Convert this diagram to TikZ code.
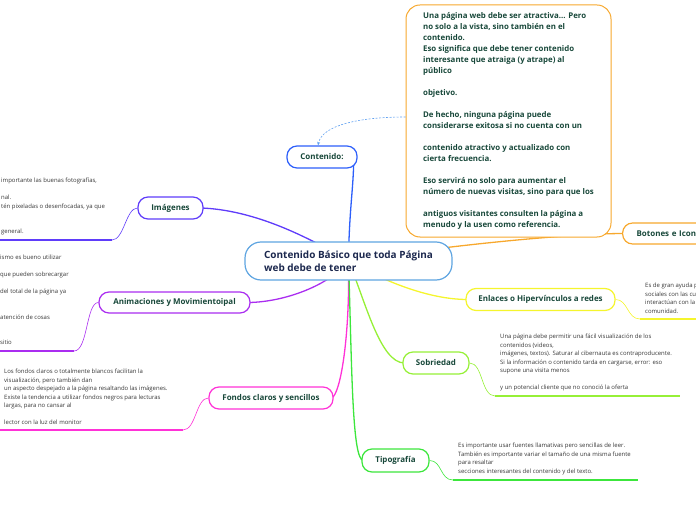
\documentclass[tikz,border=0pt]{standalone}
\usepackage{fontspec}
\setmainfont{Open Sans}
\usetikzlibrary{arrows.meta,backgrounds}

\definecolor{labelgreen}{RGB}{24,72,58}
\definecolor{hubnavy}{RGB}{28,40,78}
\definecolor{notegrey}{RGB}{55,55,55}
\definecolor{hubblue}{RGB}{95,165,225}
\definecolor{contblue}{RGB}{45,95,250}
\definecolor{arrowblue}{RGB}{95,160,240}
\definecolor{imgviolet}{RGB}{95,60,250}
\definecolor{animpurple}{RGB}{170,45,240}
\definecolor{fondpink}{RGB}{255,50,215}
\definecolor{sobrgreen}{RGB}{150,240,55}
\definecolor{tipogreen}{RGB}{60,230,60}
\definecolor{enlyellow}{RGB}{245,245,45}
\definecolor{botorange}{RGB}{247,168,45}

\begin{document}
\begin{tikzpicture}[x=1bp,y=-1bp]
	\tikzset{branch/.style = {draw, fill=white, rounded corners=10bp, line width=1.2bp, minimum height=22bp, inner sep=0pt, text=labelgreen, font=\bfseries\fontsize{8}{9}\selectfont},
		note/.style = {anchor=north west, inner sep=0pt, align=left, text=notegrey, font=\fontsize{6}{8.5}\selectfont},
		limb/.style = {line width=1.3bp},
		twig/.style = {line width=0.6bp},
		noteline/.style = {line width=1.6bp}}

	\useasboundingbox (0,0) rectangle (696,520);
	\clip (0,0) rectangle (696,520);

	\node[branch, draw=hubblue, minimum width=207bp, minimum height=38bp, rounded corners=16bp, align=left, text=hubnavy, font=\bfseries\fontsize{10}{13}\selectfont] (hub) at (348.5,261) {Contenido Básico que toda Página\\web debe de tener};

	\node[branch, draw=contblue, minimum width=70bp] (contenido) at (322,157) {Contenido:};
	\node[branch, draw=imgviolet, minimum width=65bp] (imagenes) at (170.5,208) {Imágenes};
	\node[branch, draw=animpurple, minimum width=151bp, minimum height=21bp] (animaciones) at (174.5,302.5) {Animaciones y Movimientoipal};
	\node[branch, draw=fondpink, minimum width=124bp] (fondos) at (271,398) {Fondos claros y sencillos};
	\node[branch, draw=sobrgreen, minimum width=66bp] (sobriedad) at (436,363) {Sobriedad};
	\node[branch, draw=tipogreen, minimum width=67bp, minimum height=23bp] (tipografia) at (395.5,460.5) {Tipografía};
	\node[branch, draw=enlyellow, minimum width=149bp] (enlaces) at (540.5,299.5) {Enlaces o Hipervínculos a redes};
	\node[branch, draw=botorange, anchor=west, inner xsep=14bp, text width=90bp, align=left, minimum height=21bp] (botones) at (622,233.5) {Botones e Icono};

	\node[branch, draw=botorange, line width=1bp, rounded corners=14bp, minimum width=205bp, minimum height=232bp, align=left, font=\bfseries\fontsize{7.9}{11}\selectfont] (contexto) at (508.5,121) {Una página web debe ser atractiva... Pero\\ no solo a la vista, sino también en el\\ contenido.\\ Eso significa que debe tener contenido\\ interesante que atraiga (y atrape) al\\ público\\[11bp] objetivo.\\[11bp] De hecho, ninguna página puede\\ considerarse exitosa si no cuenta con un\\[11bp] contenido atractivo y actualizado con\\ cierta frecuencia.\\[11bp] Eso servirá no solo para aumentar el\\ número de nuevas visitas, sino para que los\\[11bp] antiguos visitantes consulten la página a\\ menudo y la usen como referencia.};

	\node[note] (imgnote) at (1,178) {importante las buenas fotografías,\\[8.5bp] nal.\\ tén pixeladas o desenfocadas, ya que\\[17bp] general.};
	\node[note] (animnote) at (0,255) {ismo es bueno utilizar\\[8.5bp] que pueden sobrecargar\\[8.5bp] del total de la página ya\\[17bp] atención de cosas\\[17bp] sitio};
	\node[note] (fondnote) at (4,369) {Los fondos claros o totalmente blancos facilitan la\\ visualización, pero también dan\\ un aspecto despejado a la página resaltando las imágenes.\\ Existe la tendencia a utilizar fondos negros para lecturas\\ largas, para no cansar al\\[8.5bp] lector con la luz del monitor};
	\node[note] (sobrnote) at (500,334) {Una página debe permitir una fácil visualización de los\\ contenidos (videos,\\ imágenes, textos). Saturar al cibernauta es contraproducente.\\ Si la información o contenido tarda en cargarse, error: eso\\ supone una visita menos\\[8.5bp] y un potencial cliente que no conoció la oferta};
	\node[note] (tiponote) at (458,443) {Es importante usar fuentes llamativas pero sencillas de leer.\\ También es importante variar el tamaño de una misma fuente\\ para resaltar\\ secciones interesantes del contenido y del texto.};
	\node[note] (enlnote) at (645,283) {Es de gran ayuda p\\ sociales con las cu\\ interactúan con la\\ comunidad.};

	\coordinate (imgknee) at (112,240);
	\coordinate (imgend) at (0,240);
	\coordinate (animknee) at (74,351);
	\coordinate (animend) at (0,351);
	\coordinate (fondknee) at (183,430);
	\coordinate (fondend) at (0,430);
	\coordinate (sobrknee) at (495,396);
	\coordinate (sobrend) at (680,396);
	\coordinate (tipoknee) at (453,480);
	\coordinate (tipoend) at (638,480);
	\coordinate (enlknee) at (640,319);
	\coordinate (enlend) at (696,319);

	\draw[twig, arrowblue, dash pattern=on 2bp off 1.5bp, -{Stealth[length=3.5bp, width=3bp]}] ([yshift=4bp]contexto.west) .. controls (360,117) and (322,125) .. ([xshift=-4bp]contenido.north);

	\begin{pgfonlayer}{background}
		\draw[limb, contblue] (hub.center) .. controls (349,215) and (353,190) .. ([xshift=-4bp,yshift=3bp]contenido.south east);
		\draw[limb, imgviolet] (hub.center) .. controls (300,232) and (250,210) .. ([xshift=-2bp]imagenes.east);
		\draw[limb, animpurple] (hub.center) .. controls (330,285) and (285,302) .. ([xshift=-2bp]animaciones.east);
		\draw[limb, fondpink] (hub.center) .. controls (350,340) and (340,395) .. ([xshift=-2bp]fondos.east);
		\draw[limb, tipogreen] (hub.center) .. controls (352,370) and (352,460) .. ([xshift=2bp]tipografia.west);
		\draw[limb, sobrgreen] (hub.center) .. controls (365,300) and (380,363) .. ([xshift=2bp]sobriedad.west);
		\draw[limb, enlyellow] (hub.center) .. controls (400,290) and (440,299.5) .. ([xshift=2bp]enlaces.west);
		\draw[limb, botorange] (hub.center) .. controls (450,245) and (570,233.5) .. ([xshift=2bp]botones.west);

		\draw[twig, imgviolet] (imagenes.west) .. controls (126,208) and (124,240) .. (imgknee);
		\draw[noteline, imgviolet] (imgknee) -- (imgend);
		\draw[twig, animpurple] (animaciones.west) .. controls (86,302.5) and (88,351) .. (animknee);
		\draw[noteline, animpurple] (animknee) -- (animend);
		\draw[twig, fondpink] (fondos.west) .. controls (196,398) and (196,430) .. (fondknee);
		\draw[noteline, fondpink] (fondknee) -- (fondend);
		\draw[twig, sobrgreen] (sobriedad.east) .. controls (483,363) and (481,396) .. (sobrknee);
		\draw[noteline, sobrgreen] (sobrknee) -- (sobrend);
		\draw[twig, tipogreen] (tipografia.east) .. controls (442,460.5) and (440,480) .. (tipoknee);
		\draw[noteline, tipogreen] (tipoknee) -- (tipoend);
		\draw[twig, enlyellow] (enlaces.east) .. controls (628,299.5) and (627,319) .. (enlknee);
		\draw[noteline, enlyellow] (enlknee) -- (enlend);
	\end{pgfonlayer}
\end{tikzpicture}
\end{document}
